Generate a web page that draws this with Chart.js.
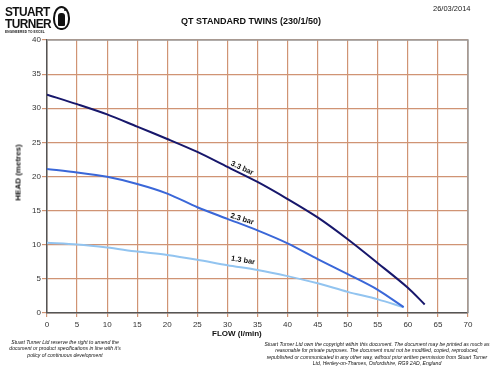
<!DOCTYPE html>
<html>
<head>
<meta charset="utf-8">
<script src="https://cdn.jsdelivr.net/npm/chart.js@4.4.1/dist/chart.umd.min.js"></script>
<style>
  html, body { margin: 0; padding: 0; background: #fff; }
  #wrap { position: relative; width: 496px; height: 368px; overflow: hidden; font-family: "Liberation Sans", Arial, sans-serif; }
  canvas { position: absolute; left: 0; top: 0; }
  .t { position: absolute; white-space: nowrap; color: #111; }
  #logo1, #logo2 { font-weight: bold; font-size: 12.5px; letter-spacing: -0.6px; line-height: 12px; left: 5px; color: #111; transform: scaleX(0.95); transform-origin: left top; }
  #logo1 { top: 6px; }
  #logo2 { top: 18px; }
  #logo3 { top: 30px; left: 5px; font-size: 3.2px; font-weight: bold; letter-spacing: 0.1px; }
  #icon { position: absolute; left: 53px; top: 6px; width: 13px; height: 20px; border: 2.5px solid #111; border-radius: 50% 50% 45% 45%; }
  #iconIn { position: absolute; left: 3px; top: 5px; width: 7px; height: 13px; background: #111; border-radius: 3px 3px 1px 1px; }
  #iconDot { position: absolute; left: 9px; top: 1px; width: 2px; height: 2px; background: #111; border-radius: 50%; }
  #title { top: 16px; left: 0; width: 502px; text-align: center; font-weight: bold; font-size: 9px; }
  #date { top: 4px; left: 433px; font-size: 7.5px; color: #222; }
  #xtitle { top: 329px; left: 212px; font-weight: bold; font-size: 8px; }
  #ytitle { top: 168px; left: -13px; font-weight: bold; font-size: 8px; transform: rotate(-90deg); width: 62px; text-align: center; }
  .foot { font-style: italic; font-size: 5.1px; line-height: 6.3px; text-align: center; color: #111; }
  #footL { left: 0; width: 130px; top: 339px; }
  #footR { left: 256px; width: 242px; top: 341px; }
</style>
</head>
<body>
<div id="wrap">
  <canvas id="c" width="496" height="368"></canvas>
  <div class="t" id="logo1">STUART</div>
  <div class="t" id="logo2">TURNER</div>
  <div class="t" id="logo3">ENGINEERED TO EXCEL</div>
  <div id="icon"><div id="iconIn"></div><div id="iconDot"></div></div>
  <div class="t" id="title">QT STANDARD TWINS (230/1/50)</div>
  <div class="t" id="date">26/03/2014</div>
  <div class="t" id="xtitle">FLOW (l/min)</div>
  <div class="t" id="ytitle">HEAD (metres)</div>
  <div class="t foot" id="footL">Stuart Turner Ltd reserve the right to amend the<br>document or product specifications in line with it's<br>policy of continuous development</div>
  <div class="t foot" id="footR">Stuart Turner Ltd own the copyright within this document. The document may be printed as much as<br>reasonable for private purposes. The document must not be modified, copied, reproduced,<br>republished or communicated in any other way, without prior written permission from Stuart Turner<br>Ltd, Henley-on-Thames, Oxfordshire, RG9 2AD, England</div>
</div>
<script>
// ---- data ----
const flow33 = [0, 5, 10, 15, 20, 25, 30, 35, 40, 45, 50, 55, 60, 62.8];
const head33 = [32, 30.6, 29.1, 27.3, 25.5, 23.6, 21.4, 19.2, 16.7, 14.0, 10.8, 7.3, 3.7, 1.25];
const flow23 = [0, 5, 10, 15, 20, 25, 30, 35, 40, 45, 50, 55, 59.3];
const head23 = [21.1, 20.6, 19.95, 18.9, 17.5, 15.5, 13.8, 12.1, 10.2, 7.9, 5.7, 3.4, 0.85];
const flow13 = [0, 5, 10, 15, 20, 25, 30, 35, 40, 45, 50, 55, 59.3];
const head13 = [10.3, 10.05, 9.6, 9.0, 8.5, 7.8, 7.0, 6.3, 5.4, 4.35, 3.1, 2.0, 0.85];
const seriesNames = ['3.3 bar', '2.3 bar', '1.3 bar'];
const xTicks = [0, 70, 5];   // min, max, step
const yTicks = [0, 40, 5];

// curve label anchors (data units) and angles
const curveLabels = [
  { text: '3.3 bar', x: 32.45, y: 21.2, angle: 25 },
  { text: '2.3 bar', x: 32.45, y: 13.75, angle: 17 },
  { text: '1.3 bar', x: 32.6, y: 7.7, angle: 9 }
];

const pts = (xs, ys) => xs.map((x, i) => ({ x: x, y: ys[i] }));

const GRID = '#d09474';

const framePlugin = {
  id: 'frame',
  afterDatasetsDraw(chart) {
    const { ctx, chartArea: a, scales } = chart;
    ctx.save();
    ctx.strokeStyle = '#9a9a9a';
    ctx.lineWidth = 1.5;
    ctx.beginPath();
    ctx.moveTo(a.left, a.top);
    ctx.lineTo(a.right, a.top);
    ctx.lineTo(a.right, a.bottom);
    ctx.stroke();
    ctx.fillStyle = '#111';
    ctx.font = 'bold 7.5px "Liberation Sans", Arial, sans-serif';
    ctx.textAlign = 'center';
    ctx.textBaseline = 'middle';
    curveLabels.forEach(l => {
      const px = scales.x.getPixelForValue(l.x);
      const py = scales.y.getPixelForValue(l.y);
      ctx.save();
      ctx.translate(px, py);
      ctx.rotate(l.angle * Math.PI / 180);
      ctx.fillText(l.text, 0, 0);
      ctx.restore();
    });
    ctx.restore();
  }
};

new Chart(document.getElementById('c'), {
  type: 'line',
  data: {
    datasets: [
      { label: seriesNames[0], data: pts(flow33, head33), borderColor: '#17176b', borderWidth: 2 },
      { label: seriesNames[1], data: pts(flow23, head23), borderColor: '#3a67d8', borderWidth: 2 },
      { label: seriesNames[2], data: pts(flow13, head13), borderColor: '#92c4f0', borderWidth: 2 }
    ]
  },
  options: {
    responsive: false,
    animation: false,
    devicePixelRatio: 1,
    layout: { padding: { left: 0, top: 40, right: 28, bottom: 0 } },
    elements: { point: { radius: 0 }, line: { tension: 0.3, fill: false } },
    plugins: { legend: { display: false }, tooltip: { enabled: false }, title: { display: false } },
    scales: {
      x: {
        type: 'linear', min: xTicks[0], max: xTicks[1],
        ticks: { stepSize: xTicks[2], padding: 3, color: '#333', font: { family: '"Liberation Sans", Arial, sans-serif', size: 8 } },
        grid: { color: GRID, lineWidth: 1.2, tickLength: 4 },
        border: { color: '#555', width: 1.5 },
        afterFit: s => { s.height = 55; }
      },
      y: {
        min: yTicks[0], max: yTicks[1],
        ticks: { stepSize: yTicks[2], padding: 1, color: '#333', font: { family: '"Liberation Sans", Arial, sans-serif', size: 8 } },
        grid: { color: GRID, lineWidth: 1.2, tickLength: 5 },
        border: { color: '#555', width: 1.5 },
        afterFit: s => { s.width = 47; }
      }
    }
  },
  plugins: [framePlugin]
});
</script>
</body>
</html>
